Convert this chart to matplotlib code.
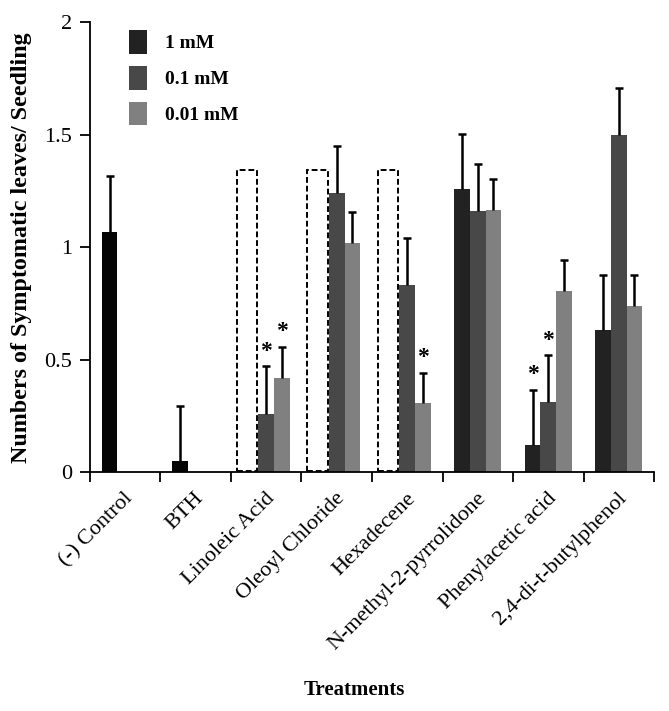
import matplotlib
matplotlib.use("Agg")
import matplotlib.pyplot as plt
from matplotlib.patches import Rectangle, Patch
import numpy as np

categories = ["(-) Control", "BTH", "Linoleic Acid", "Oleoyl Chloride", "Hexadecene",
              "N-methyl-2-pyrrolidone", "Phenylacetic acid", "2,4-di-t-butylphenol"]
series_names = ["1 mM", "0.1 mM", "0.01 mM"]
# NaN = no bar
vals_1mM = [1.07, 0.05, np.nan, np.nan, np.nan, 1.26, 0.12, 0.63]
err_1mM = [0.245, 0.245, np.nan, np.nan, np.nan, 0.245, 0.245, 0.245]
vals_01mM = [np.nan, np.nan, 0.26, 1.24, 0.83, 1.16, 0.31, 1.50]
err_01mM = [np.nan, np.nan, 0.21, 0.21, 0.21, 0.21, 0.21, 0.21]
vals_001mM = [np.nan, np.nan, 0.42, 1.02, 0.305, 1.165, 0.805, 0.74]
err_001mM = [np.nan, np.nan, 0.137, 0.137, 0.137, 0.137, 0.137, 0.137]
# dashed placeholder boxes (1 mM not tested)
dashed_cats = [2, 3, 4]
dashed_height = 1.345
# significance asterisks: (category index, series index)
stars = [(2, 1), (2, 2), (4, 2), (6, 0), (6, 1)]

colors = ["#222222", "#484848", "#808080"]
ctrl_color = "#050505"

plt.rcParams['font.family'] = ['Liberation Serif', 'DejaVu Serif']

fig = plt.figure(figsize=(6.69, 7.11), dpi=100)
ax = fig.add_axes([0.1345, 0.3361, 0.8431, 0.6323])

x = np.arange(len(categories))
w = 0.222
all_vals = [vals_1mM, vals_01mM, vals_001mM]
all_errs = [err_1mM, err_01mM, err_001mM]
offsets = [-w, 0, w]
for si in range(3):
    v = np.array(all_vals[si], dtype=float)
    e = np.array(all_errs[si], dtype=float)
    cols = [colors[si]] * len(categories)
    if si == 0:
        cols[0] = ctrl_color
        cols[1] = ctrl_color
    mask = ~np.isnan(v)
    ax.bar(x[mask] + offsets[si], v[mask], width=w, color=np.array(cols)[mask],
           edgecolor='none', zorder=2)
    eb = ax.errorbar(x[mask] + offsets[si], v[mask],
                     yerr=[np.zeros(mask.sum()), e[mask]], fmt='none',
                     ecolor='black', elinewidth=1.8, capsize=3.2, capthick=1.8, zorder=3)
    # hide lower caps (only upper error shown)
    eb[1][0].set_visible(False)

for ci in dashed_cats:
    left = ci - 0.416
    right = ci - 0.13
    ax.add_patch(Rectangle((left, 0.005), right - left, dashed_height - 0.005,
                           fill=False, edgecolor='black', linestyle=(0, (3, 1.5)),
                           linewidth=1.4, zorder=4))

for ci, si in stars:
    top = all_vals[si][ci] + all_errs[si][ci]
    ax.text(ci + offsets[si], top + 0.02, "*", ha='center', va='bottom',
            fontsize=17, fontweight='bold')

ax.set_xlim(-0.5, len(categories) - 0.5)
ax.set_ylim(0, 2)
ax.set_yticks([0, 0.5, 1, 1.5, 2])
ax.set_yticklabels(["0", "0.5", "1", "1.5", "2"])
ax.set_xticks(np.arange(len(categories) + 1) - 0.5)
ax.set_xticklabels([])
ax.tick_params(axis='both', direction='out', length=7, width=1.3, labelsize=16)
ax.tick_params(axis='y', pad=6)
for i, c in enumerate(categories):
    ax.text(i - 0.02, -0.075, c, rotation=45, ha='right', va='top',
            rotation_mode='anchor', fontsize=16, transform=ax.transData)

for s in ['top', 'right']:
    ax.spines[s].set_visible(False)
for s in ['left', 'bottom']:
    ax.spines[s].set_linewidth(1.3)

ax.set_ylabel("Numbers of Symptomatic leaves/ Seedling", fontsize=17.3,
              fontweight='bold')
ax.yaxis.set_label_coords(-0.103, 0.5)
fig.text(0.53, 0.03, "Treatments", ha='center', va='center', fontsize=15,
         fontweight='bold')

handles = [Patch(facecolor=colors[i], edgecolor='none') for i in range(3)]
ax.legend(handles, series_names, loc='upper left', bbox_to_anchor=(0.038, 1.022),
          frameon=False, prop={'weight': 'bold', 'size': 14},
          handlelength=0.95, handleheight=1.5, labelspacing=0.62, handletextpad=0.9)

fig.savefig("out.png", dpi=100)
